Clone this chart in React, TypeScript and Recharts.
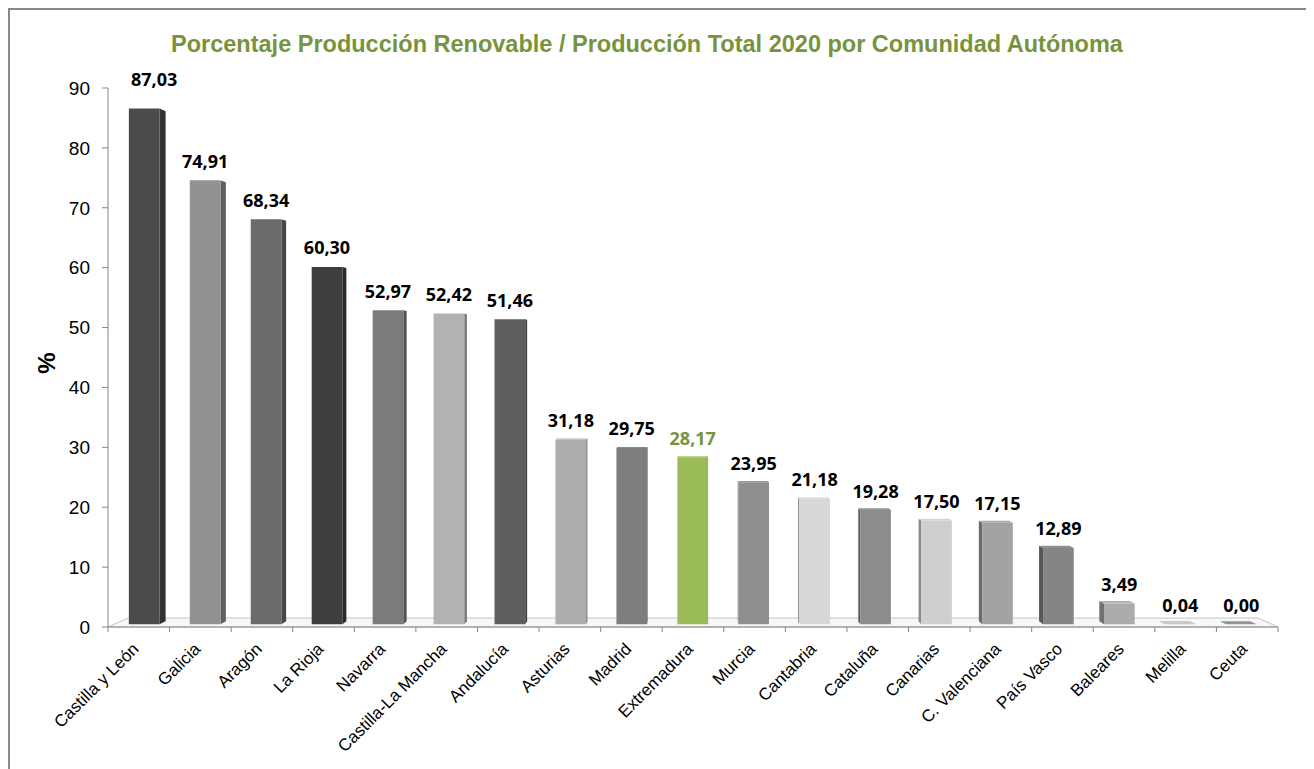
import React from 'react';
import { BarChart, Bar, XAxis, YAxis, LabelList, Customized } from 'recharts';

// ---------- data ----------
const CATEGORIES = [
  'Castilla y León', 'Galicia', 'Aragón', 'La Rioja', 'Navarra', 'Castilla-La Mancha',
  'Andalucía', 'Asturias', 'Madrid', 'Extremadura', 'Murcia', 'Cantabria', 'Cataluña',
  'Canarias', 'C. Valenciana', 'País Vasco', 'Baleares', 'Melilla', 'Ceuta',
];
const VALUES = [
  87.03, 74.91, 68.34, 60.3, 52.97, 52.42, 51.46, 31.18, 29.75, 28.17, 23.95, 21.18, 19.28,
  17.5, 17.15, 12.89, 3.49, 0.04, 0.0,
];
const Y_TICKS = [0, 10, 20, 30, 40, 50, 60, 70, 80, 90];
const TITLE = 'Porcentaje Producción Renovable / Producción Total 2020 por Comunidad Autónoma';
const Y_LABEL = '%';
const HIGHLIGHT = 'Extremadura';

// ---------- styles ----------
const BAR_COLORS = [
  '#4b4b4b', '#929292', '#6b6b6b', '#3f3f3f', '#7b7b7b', '#b2b2b2', '#5e5e5e', '#adadad',
  '#7d7d7d', '#9bbb59', '#8f8f8f', '#d7d7d7', '#8c8c8c', '#cfcfcf', '#a3a3a3', '#858585',
  '#ababab', '#c4c4c4', '#8a8a8a',
];
const GREEN_TEXT = '#77933c';
const AXIS_COLOR = '#868686';

const data = CATEGORIES.map((name, i) => ({ name, value: VALUES[i] }));

// ---------- layout ----------
const W = 1296;
const H = 760;
const Y_AXIS_W = 60;
const X_AXIS_H = 120;
const PLOT_LEFT = 98;
const PLOT_RIGHT = 1268;
const PLOT_TOP = 78;
const PLOT_BOTTOM = 617;
const MARGIN = {
  top: PLOT_TOP,
  right: W - PLOT_RIGHT,
  left: PLOT_LEFT - Y_AXIS_W,
  bottom: H - PLOT_BOTTOM - X_AXIS_H,
};
const BAND = (PLOT_RIGHT - PLOT_LEFT) / CATEGORIES.length;

// perspective
const VPX = (PLOT_LEFT + PLOT_RIGHT) / 2;
const VPY = 354;
const FLOOR_DEPTH = 0.0342;
const F1 = 0.3 * FLOOR_DEPTH;
const F2 = 0.63 * FLOOR_DEPTH;

const proj = (x: number, y: number, f: number): [number, number] => [x + (VPX - x) * f, y + (VPY - y) * f];
const pts = (arr: [number, number][]) => arr.map((p) => `${p[0]},${p[1]}`).join(' ');

const shade = (hex: string, k: number) => {
  const n = parseInt(hex.slice(1), 16);
  const ch = [(n >> 16) & 255, (n >> 8) & 255, n & 255].map((c) =>
    Math.max(0, Math.min(255, Math.round(k >= 1 ? c + (255 - c) * (k - 1) : c * k)))
  );
  return `rgb(${ch[0]},${ch[1]},${ch[2]})`;
};

const Bar3D = (props: any) => {
  const { x, y, width, height, payload } = props;
  if (x == null || y == null) return null;
  const idx = CATEGORIES.indexOf(payload?.name);
  const color = BAR_COLORS[idx >= 0 ? idx : 0];
  const x0 = x;
  const x1 = x + width;
  const yt = y;
  const yb = y + (height || 0);
  const A = proj(x0, yt, F1);
  const B = proj(x1, yt, F1);
  const C = proj(x1, yb, F1);
  const D = proj(x0, yb, F1);
  const A2 = proj(x0, yt, F2);
  const B2 = proj(x1, yt, F2);
  const C2 = proj(x1, yb, F2);
  const D2 = proj(x0, yb, F2);
  const cx = x + width / 2;
  const side = shade(color, 0.66);
  const top = shade(color, 1.08);
  return (
    <g>
      {cx < VPX ? (
        <polygon points={pts([B, B2, C2, C])} fill={side} />
      ) : (
        <polygon points={pts([A, A2, D2, D])} fill={side} />
      )}
      {yt > VPY && <polygon points={pts([A, B, B2, A2])} fill={top} />}
      {yb - yt > 0 && <polygon points={pts([A, B, C, D])} fill={color} />}
    </g>
  );
};

const fmt = (v: number) => Number(v).toFixed(2).replace('.', ',');

const ValueLabel = (props: any) => {
  const { x, y, width, value, index } = props;
  if (x == null || y == null) return null;
  const cx = Number(x) + Number(width) / 2;
  const [px, py] = proj(cx, Number(y), F1);
  const name = CATEGORIES[index];
  const dx = index === 0 ? 10 : 0;
  const dy = index === 0 ? -10 : 0;
  return (
    <text
      x={px + dx}
      y={py - 12.5 + dy}
      textAnchor="middle"
      fontFamily="'Open Sans', 'DejaVu Sans', sans-serif"
      fontWeight={700}
      fontSize={18}
      fill={name === HIGHLIGHT ? GREEN_TEXT : '#000'}
    >
      {fmt(value)}
    </text>
  );
};

const XTick = (props: any) => {
  const { x, payload } = props;
  const half = BAND / 2;
  const bx = x - half;
  const ax = x + 1;
  const ay = PLOT_BOTTOM + 23;
  const isLast = payload.value === CATEGORIES[CATEGORIES.length - 1];
  return (
    <g>
      <line x1={bx} x2={bx} y1={PLOT_BOTTOM} y2={PLOT_BOTTOM + 5} stroke={AXIS_COLOR} />
      {isLast && <line x1={x + half} x2={x + half} y1={PLOT_BOTTOM} y2={PLOT_BOTTOM + 5} stroke={AXIS_COLOR} />}
      <text
        x={ax}
        y={ay}
        transform={`rotate(-45, ${ax}, ${ay})`}
        textAnchor="end"
        fontSize={17}
        fontFamily="'Liberation Sans', Arial, sans-serif"
        fill="#000"
      >
        {payload.value}
      </text>
    </g>
  );
};

const Floor = () => {
  const fl: [number, number] = [PLOT_LEFT, PLOT_BOTTOM];
  const fr: [number, number] = [PLOT_RIGHT, PLOT_BOTTOM];
  const br = proj(PLOT_RIGHT, PLOT_BOTTOM, FLOOR_DEPTH);
  const bl = proj(PLOT_LEFT, PLOT_BOTTOM, FLOOR_DEPTH);
  return (
    <g>
      <polygon points={pts([fl, fr, br, bl])} fill="#f7f7f7" stroke="#c4c4c4" strokeWidth={1} />
    </g>
  );
};

const Decorations = () => (
  <g>
    <text
      x={637}
      y={42}
      textAnchor="middle"
      fontFamily="'Liberation Sans', Arial, sans-serif"
      fontWeight={700}
      fontSize={23.5}
      fill={GREEN_TEXT}
    >
      {TITLE}
    </text>
    <text
      x={45}
      y={353}
      transform="rotate(-90, 45, 353)"
      textAnchor="middle"
      fontFamily="'Liberation Sans', Arial, sans-serif"
      fontWeight={700}
      fontSize={24}
      fill="#000"
    >
      {Y_LABEL}
    </text>
  </g>
);

export default function App() {
  return (
    <div
      style={{
        width: 1300,
        height: 790,
        border: '2px solid #898989',
        boxSizing: 'border-box',
        background: '#fff',
      }}
    >
      <BarChart width={W} height={H} data={data} margin={MARGIN} barSize={31}>
        <Customized component={Floor} />
        <XAxis
          dataKey="name"
          height={X_AXIS_H}
          interval={0}
          tick={<XTick />}
          tickLine={false}
          tickSize={6}
          tickMargin={0}
          axisLine={{ stroke: AXIS_COLOR }}
        />
        <YAxis
          width={Y_AXIS_W}
          domain={[0, 90]}
          ticks={Y_TICKS}
          interval={0}
          axisLine={{ stroke: AXIS_COLOR }}
          tickLine={{ stroke: AXIS_COLOR }}
          tickSize={6}
          tickMargin={12}
          tick={{ fontSize: 19, fill: '#000', fontFamily: "'Liberation Sans', Arial, sans-serif" }}
        />
        <Bar dataKey="value" isAnimationActive={false} shape={(p: any) => <Bar3D {...p} />}>
          <LabelList dataKey="value" content={(p: any) => <ValueLabel {...p} />} />
        </Bar>
        <Customized component={Decorations} />
      </BarChart>
    </div>
  );
}
